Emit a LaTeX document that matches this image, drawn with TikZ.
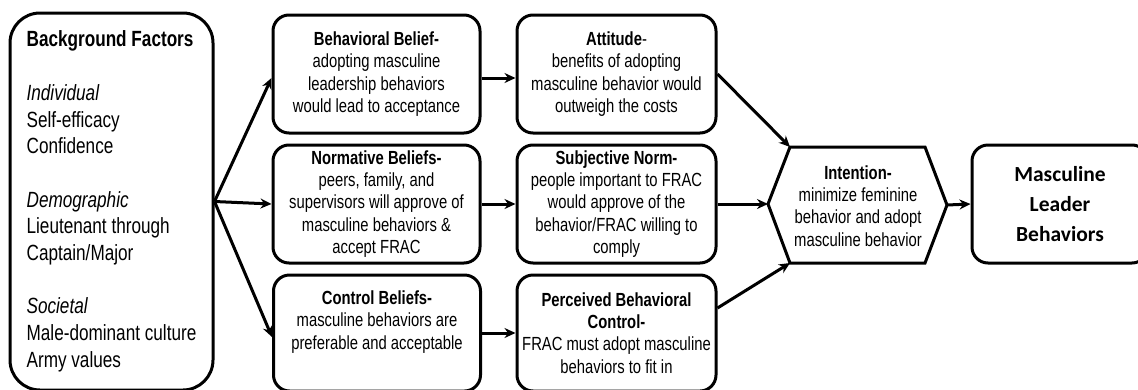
\documentclass[tikz,border=0pt]{standalone}
\usepackage{fontspec}
\setmainfont{Liberation Sans}[FakeStretch=0.78]
\newfontfamily\calibri{Carlito}
\usetikzlibrary{arrows.meta,calc}
\begin{document}
\begin{tikzpicture}[x=1pt,y=-1pt,
  box/.style={draw, line width=3pt, rounded corners=16pt, align=center, inner sep=0pt,
    font=\fontsize{19}{22.3}\selectfont},
  arr/.style={line width=3pt, -{Stealth[length=11pt,width=10pt]}},
  bx/.style={box, minimum width=207pt, minimum height=118pt},
  bx3/.style={box, minimum width=199pt, minimum height=118pt}]
\useasboundingbox (0,0) rectangle (1138,389);
% background factors
\node[draw, line width=3pt, rounded corners=30pt, align=left, inner sep=0pt,
  minimum width=203pt, minimum height=377pt, font=\fontsize{22}{26.7}\selectfont]
  (BG) at (111.5,201.5) {\textbf{Background Factors}\\[26.7pt]
  \textit{Individual}\\ Self-efficacy\\ Confidence\\[26.7pt]
  \textit{Demographic}\\ Lieutenant through\\ Captain/Major\\[26.7pt]
  \textit{Societal}\\ Male-dominant culture\\ Army values};
% beliefs
\node[bx] (BB) at (376.5,74) {\textbf{Behavioral Belief-}\\ adopting masculine\\ leadership behaviors\\ would lead to acceptance};
\node[bx] (NB) at (376.5,204) {\textbf{Normative Beliefs-}\\ peers, family, and\\ supervisors will approve of\\ masculine behaviors \&\\ accept FRAC};
\node[box, minimum width=207pt, minimum height=116pt] (CB) at (377,333) {\textbf{Control Beliefs-}\\ masculine behaviors are\\ preferable and acceptable\\[4pt]};
% attitudes
\node[bx3] (AT) at (616.5,74) {\textbf{Attitude}-\\ benefits of adopting\\ masculine behavior would\\ outweigh the costs};
\node[bx3] (SN) at (616.5,204) {\textbf{Subjective Norm-}\\ people important to FRAC\\ would approve of the\\ behavior/FRAC willing to\\ comply};
\node[box, minimum width=199pt, minimum height=116pt] (PBC) at (616.5,333) {\textbf{Perceived Behavioral}\\ \textbf{Control-}\\ FRAC must adopt masculine\\ behaviors to fit in};
% intention hexagon
\coordinate (hl) at (768,204);
\coordinate (htl) at (790,147);
\coordinate (htr) at (925,147);
\coordinate (hr) at (947,205);
\coordinate (hbr) at (925,263);
\coordinate (hbl) at (790,263);
\draw[line width=3pt, line join=miter] (hl) -- (htl) -- (htr) -- (hr) -- (hbr) -- (hbl) -- cycle;
\node[align=center, inner sep=0pt, font=\fontsize{19}{22.3}\selectfont] (IN) at (858,206)
  {\textbf{Intention-}\\ minimize feminine\\ behavior and adopt\\ masculine behavior};
% outcome
\node[box, minimum width=176pt, minimum height=118pt, font=\calibri\bfseries\fontsize{21.5}{30}\selectfont]
  (MLB) at (1060,204) {Masculine\\ Leader\\ Behaviors};
% connectors
\draw[arr] (BG.east) -- ($(BB.west)+(0,4)$);
\draw[arr] (BG.east) -- (NB.west);
\draw[arr] (BG.east) -- ($(CB.west)+(0,4)$);
\draw[arr] ($(BB.east)+(0,4)$) -- ($(AT.west)+(0,4)$);
\draw[arr] (NB.east) -- (SN.west);
\draw[arr] (CB.east) -- (PBC.west);
\draw[arr] (AT.east) -- (htl);
\draw[arr] (SN.east) -- (hl);
\draw[arr] ($(PBC.east)+(0,-25)$) -- (hbl);
\draw[arr] (hr) -- (MLB.west);
\end{tikzpicture}
\end{document}
